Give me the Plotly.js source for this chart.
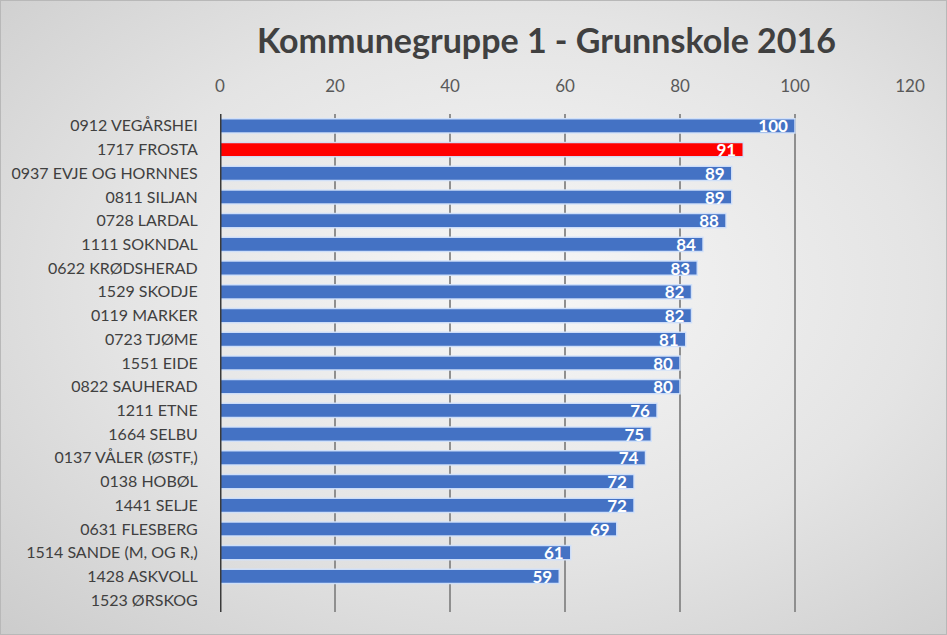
<!DOCTYPE html>
<html>
<head>
<meta charset="utf-8">
<script src="https://cdn.plot.ly/plotly-3.0.1.min.js"></script>
<style>
html, body { margin:0; padding:0; }
#chart { width:947px; height:635px; box-sizing:border-box; border:1px solid #b8b8b8;
  background: radial-gradient(ellipse at 55% 45%, #f7f7f7 0%, #e4e4e4 55%, #cccccc 100%); }
</style>
</head>
<body>
<div id="chart"></div>
<script>
const categories = ["0912 VEGÅRSHEI","1717 FROSTA","0937 EVJE OG HORNNES","0811 SILJAN","0728 LARDAL","1111 SOKNDAL","0622 KRØDSHERAD","1529 SKODJE","0119 MARKER","0723 TJØME","1551 EIDE","0822 SAUHERAD","1211 ETNE","1664 SELBU","0137 VÅLER (ØSTF,)","0138 HOBØL","1441 SELJE","0631 FLESBERG","1514 SANDE (M, OG R,)","1428 ASKVOLL","1523 ØRSKOG"];
const values = [100,91,89,89,88,84,83,82,82,81,80,80,76,75,74,72,72,69,61,59,null];
const highlight = "1717 FROSTA";
const xTicks = [0,20,40,60,80,100,120];

const colors = categories.map(c => c === highlight ? "#FF0000" : "#4472C4");
const font = "Lato, Carlito, Calibri, 'Open Sans', sans-serif";

const trace = {
  type: "bar", orientation: "h",
  x: values, y: categories,
  marker: { color: colors, line: { color: "rgba(210,225,250,0.95)", width: 1.5 } },
  text: values.map(v => v == null ? "" : String(v) + "\u00a0"),
  textposition: "inside", insidetextanchor: "end", textangle: 0,
  constraintext: "none",
  textfont: { color: "#ffffff", size: 17, family: font, weight: "bold" },
  hoverinfo: "none", cliponaxis: false
};

const layout = {
  width: 947, height: 635,
  paper_bgcolor: "rgba(0,0,0,0)", plot_bgcolor: "rgba(0,0,0,0)",
  margin: { l: 219, r: 38, t: 113, b: 24, pad: 0 },
  bargap: 0.4,
  showlegend: false,
  title: { text: "<b>Kommunegruppe 1 - Grunnskole 2016</b>", x: 0.576, xanchor: "center", y: 0.937, yanchor: "middle",
    font: { family: font, size: 34, color: "#404040" } },
  xaxis: { side: "top", range: [0,120], tickvals: xTicks, ticktext: xTicks.map(String),
    showgrid: true, gridcolor: "#8f8f8f", gridwidth: 2, zeroline: false, showline: false,
    ticks: "outside", ticklen: 14, tickcolor: "rgba(0,0,0,0)",
    tickfont: { family: font, size: 17, color: "#595959" }, fixedrange: true },
  yaxis: { type: "category", autorange: "reversed", showgrid: false, zeroline: false,
    showline: false, ticks: "outside", ticklen: 18, tickcolor: "rgba(0,0,0,0)",
    tickfont: { family: font, size: 16, color: "#404040" }, fixedrange: true },
  shapes: [{ type: "line", xref: "x", yref: "paper", x0: 0, x1: 0, y0: 0, y1: 1,
    line: { color: "#3a3a3a", width: 3 } }]
};

Plotly.newPlot("chart", [trace], layout, { displayModeBar: false, staticPlot: true });
</script>
</body>
</html>
